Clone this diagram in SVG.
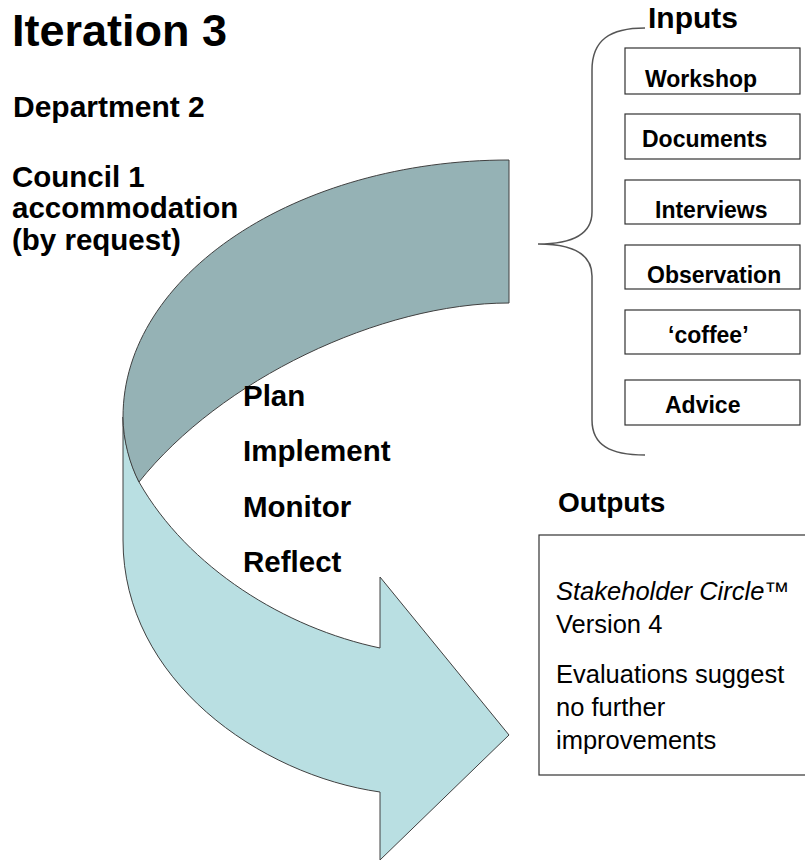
<svg xmlns="http://www.w3.org/2000/svg" width="805" height="862" viewBox="0 0 805 862">
<style>
text{font-family:"Liberation Sans",Arial,sans-serif;fill:#000}
.b{font-weight:bold}
.box{fill:#fff;stroke:#333;stroke-width:1.2}
.bt{font-weight:bold;font-size:23px}
.step{font-weight:bold;font-size:29.5px}
.out{font-size:25.5px}
.left{font-weight:bold;font-size:29.5px}
</style>
<rect width="805" height="862" fill="#fff"/>
<g id="titles">
<text class="b" x="12" y="46" font-size="45">Iteration 3</text>
<text class="b" x="13" y="117" font-size="30">Department 2</text>
<text class="left" x="12" y="187">Council 1</text>
<text class="left" x="12" y="218">accommodation</text>
<text class="left" x="12" y="250">(by request)</text>
</g>
<g id="cycle-arrow">
<path id="light-band" d="M123,417 L123,540 C123,680 260,775 380,792 L380,860 L509,735 L380,577 L380,648 C285,628 188,568 139,482 C131,465 123,440 123,417 Z" fill="#B9DFE2" stroke="#404040" stroke-width="1"/>
<path id="dark-band" d="M509,160 C296,160 123,275 123,417 C123,440 130,465 139,482 C220,380 380,303 509,303 Z" fill="#95B2B5" stroke="#404040" stroke-width="1"/>
</g>
<g id="steps">
<text class="step" x="243" y="406">Plan</text>
<text class="step" x="243" y="461">Implement</text>
<text class="step" x="243" y="517">Monitor</text>
<text class="step" x="243" y="572">Reflect</text>
</g>
<g id="connectors">
<path id="brace" d="M645,28 C610,28 592,40 592,70 L592,212 C592,234 572,244 538,244 C572,244 592,254 592,276 L592,420 C592,445 610,455 645,455" fill="none" stroke="#555" stroke-width="1.5"/>
</g>
<g id="inputs">
<text class="b" x="648" y="28" font-size="30">Inputs</text>
<g id="in-workshop"><rect class="box" x="625" y="48" width="175" height="46"/><text class="bt" x="645" y="87">Workshop</text></g>
<g id="in-documents"><rect class="box" x="625" y="114" width="175" height="45"/><text class="bt" x="642" y="147">Documents</text></g>
<g id="in-interviews"><rect class="box" x="625" y="180" width="175" height="44"/><text class="bt" x="655" y="218">Interviews</text></g>
<g id="in-observation"><rect class="box" x="625" y="245" width="175" height="44"/><text class="bt" x="647" y="283">Observation</text></g>
<g id="in-coffee"><rect class="box" x="625" y="310" width="175" height="44"/><text class="bt" x="668" y="343">‘coffee’</text></g>
<g id="in-advice"><rect class="box" x="625" y="380" width="175" height="45"/><text class="bt" x="665" y="413">Advice</text></g>
</g>
<g id="outputs">
<text class="b" x="558" y="512" font-size="28">Outputs</text>
<rect x="539" y="535" width="280" height="240" fill="#fff" stroke="#333" stroke-width="1.2"/>
<text class="out" x="556" y="600" font-size="26.5"><tspan font-style="italic">Stakeholder Circle</tspan>™</text>
<text class="out" x="556" y="633">Version 4</text>
<text class="out" x="556" y="683">Evaluations suggest</text>
<text class="out" x="556" y="716">no further</text>
<text class="out" x="556" y="749">improvements</text>
</g>
</svg>
